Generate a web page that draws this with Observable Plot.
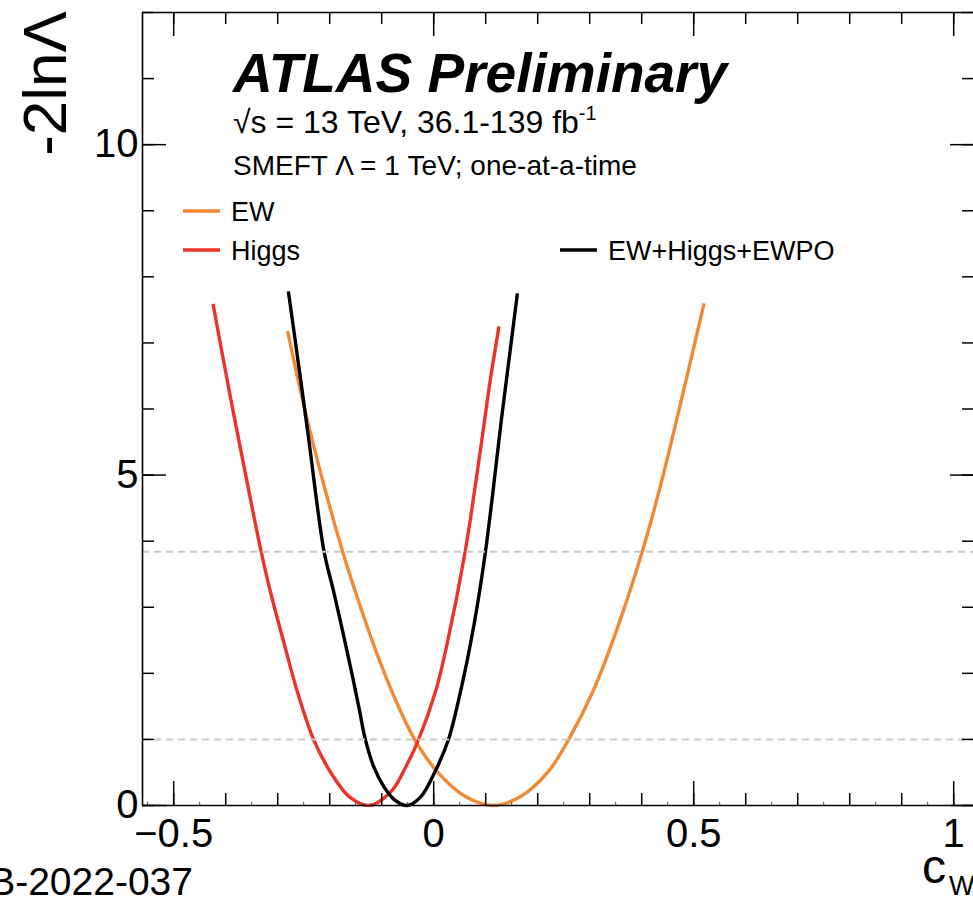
<!DOCTYPE html>
<html>
<head>
<meta charset="utf-8">
<script src="https://cdn.jsdelivr.net/npm/d3@7"></script>
<script src="https://cdn.jsdelivr.net/npm/@observablehq/plot@0.6"></script>
<style>
  html, body { margin: 0; padding: 0; background: #fff; }
  #chart { position: relative; width: 973px; height: 897px; overflow: hidden; }
</style>
</head>
<body>
<div id="chart"></div>
<script>
// Likelihood scans of the Wilson coefficient c_W (one-at-a-time fits)
const categories = ["EW", "Higgs", "EW+Higgs+EWPO"];
const seriesColors = ["#f28934", "#eb3427", "#000000"];

const ewX = [-0.281, -0.261, -0.233, -0.1755, -0.1385, -0.1045, -0.069, -0.036, 0.008, 0.06, 0.113, 0.168, 0.221, 0.259, 0.307, 0.353, 0.401, 0.4365, 0.4686, 0.5199];
const ewY = [7.18, 6.45, 5.51, 3.85, 2.95, 2.2, 1.52, 0.99, 0.5, 0.14, 0, 0.14, 0.52, 0.99, 1.74, 2.68, 3.84, 4.85, 5.88, 7.6];

const higgsX = [-0.4244, -0.3895, -0.3615, -0.3318, -0.3145, -0.289, -0.261, -0.2305, -0.1965, -0.162, -0.1244, -0.08, -0.054, -0.0295, 0.004, 0.027, 0.0605, 0.0904, 0.1085, 0.1256];
const higgsY = [7.59, 6.12, 5.0, 3.84, 3.25, 2.49, 1.69, 0.99, 0.48, 0.13, 0, 0.23, 0.58, 0.99, 1.74, 2.49, 3.84, 5.41, 6.42, 7.25];

const combX = [-0.2795, -0.256, -0.2398, -0.211, -0.1928, -0.1729, -0.156, -0.143, -0.1315, -0.115, -0.0955, -0.076, -0.0506, -0.025, 0.0006, 0.028, 0.052, 0.0776, 0.0995, 0.1315, 0.1465, 0.161];
const combY = [7.78, 6.45, 5.51, 3.85, 3.25, 2.56, 1.95, 1.45, 1.0, 0.58, 0.28, 0.09, 0, 0.13, 0.48, 0.99, 1.74, 2.74, 3.84, 5.92, 6.85, 7.75];

const xDomain = [-0.56, 1.04];
const yDomain = [0, 12];
const xMajor = [-0.5, 0, 0.5, 1];
const xMajorLabels = ["\u22120.5", "0", "0.5", "1"];
const yMajor = [0, 5, 10];
const yMajorLabels = ["0", "5", "10"];
const refLevels = [1, 3.84];

const xMinor = d3.range(-5, 11).map(i => i / 10);
const xFine = d3.range(-6, 11).map(i => Math.round((i / 10 + 0.05) * 100) / 100)
  .filter(v => v > xDomain[0] && v < xDomain[1]);
const yMinor = d3.range(yDomain[0], yDomain[1] + 1);

const FONT = '"Liberation Sans", Arial, Helvetica, sans-serif';
const W = 973, H = 897;
const M = { left: 142, right: -1, top: 12, bottom: 92 };
const frameW = W - M.left - M.right;
const frameH = H - M.top - M.bottom;

const rows = [
  ...ewX.map((x, i) => ({ series: categories[0], x, y: ewY[i] })),
  ...higgsX.map((x, i) => ({ series: categories[1], x, y: higgsY[i] })),
  ...combX.map((x, i) => ({ series: categories[2], x, y: combY[i] }))
];

const id = d => d;
const chart = Plot.plot({
  width: W,
  height: H,
  marginLeft: M.left,
  marginRight: M.right,
  marginTop: M.top,
  marginBottom: M.bottom,
  x: { domain: xDomain, axis: null },
  y: { domain: yDomain, axis: null },
  color: { domain: categories, range: seriesColors },
  style: { background: "white", fontFamily: FONT, color: "black", overflow: "hidden" },
  marks: [
    Plot.line(rows, { x: "x", y: "y", z: "series", stroke: "series", strokeWidth: 3.4, strokeLinecap: "butt", curve: "catmull-rom" }),
    Plot.ruleY(refLevels, { stroke: "#c8c8c8", strokeWidth: 2, strokeDasharray: "7,5" }),
    // frame
    Plot.ruleY(yDomain, { stroke: "black", strokeWidth: 1.6 }),
    Plot.ruleX(xDomain, { stroke: "black", strokeWidth: 1.6 }),
    // x ticks, bottom and top
    Plot.tickX(xMajor, { x: id, insetTop: frameH - 24, strokeWidth: 1.5 }),
    Plot.tickX(xMajor, { x: id, insetBottom: frameH - 24, strokeWidth: 1.5 }),
    Plot.tickX(xMinor, { x: id, insetTop: frameH - 12, strokeWidth: 1.5 }),
    Plot.tickX(xMinor, { x: id, insetBottom: frameH - 12, strokeWidth: 1.5 }),
    Plot.tickX(xFine, { x: id, insetTop: frameH - 3, strokeWidth: 1, stroke: "#444" }),
    // y ticks, left and right
    Plot.tickY(yMajor, { y: id, insetRight: frameW - 24, strokeWidth: 1.5 }),
    Plot.tickY(yMajor, { y: id, insetLeft: frameW - 24, strokeWidth: 1.5 }),
    Plot.tickY(yMinor, { y: id, insetRight: frameW - 12, strokeWidth: 1.5 }),
    Plot.tickY(yMinor, { y: id, insetLeft: frameW - 12, strokeWidth: 1.5 }),
    // tick labels
    Plot.text(xMajor, { x: id, text: (d, i) => xMajorLabels[i], frameAnchor: "bottom", lineAnchor: "top", dy: 13, fontSize: 40 }),
    Plot.text(yMajor, { y: id, text: (d, i) => yMajorLabels[i], frameAnchor: "left", textAnchor: "end", dx: -4, fontSize: 40 })
  ]
});
document.getElementById("chart").appendChild(chart);

const svg = d3.select(chart);
const g = svg.append("g").attr("font-family", FONT).attr("fill", "black").attr("text-anchor", "start");

// experiment label
g.append("text").attr("x", 233).attr("y", 92)
  .attr("font-size", 55).attr("font-weight", "bold").attr("font-style", "italic")
  .text("ATLAS Preliminary");
const energy = g.append("text").attr("x", 233).attr("y", 133).attr("font-size", 32);
energy.append("tspan").text("\u221As = 13 TeV, 36.1-139 fb");
energy.append("tspan").attr("dy", -13).attr("font-size", 20).text("-1");
g.append("text").attr("x", 233).attr("y", 175).attr("font-size", 28)
  .text("SMEFT \u039B = 1 TeV; one-at-a-time");

// legend
const legendItems = [
  { label: categories[0], color: seriesColors[0], x: 183, y: 211 },
  { label: categories[1], color: seriesColors[1], x: 183, y: 250 },
  { label: categories[2], color: seriesColors[2], x: 560, y: 250 }
];
const leg = g.selectAll("g.leg").data(legendItems).join("g").attr("class", "leg");
leg.append("line")
  .attr("x1", d => d.x).attr("x2", d => d.x + 37)
  .attr("y1", d => d.y).attr("y2", d => d.y)
  .attr("stroke", d => d.color).attr("stroke-width", 3.4);
leg.append("text")
  .attr("x", d => d.x + 48).attr("y", d => d.y + 10)
  .attr("font-size", 27).text(d => d.label);

// axis titles
g.append("text").attr("transform", "translate(66,11) rotate(-90)")
  .attr("text-anchor", "end").attr("font-size", 62).text("-2ln\u039B");
const xt = g.append("text").attr("x", 922).attr("y", 883).attr("font-size", 48);
xt.append("tspan").text("c");
xt.append("tspan").attr("x", 949).attr("y", 895).attr("font-size", 27).text("W");

// publication reference
g.append("text").attr("x", 193).attr("y", 895).attr("text-anchor", "end")
  .attr("font-size", 39).text("ATL-PHYS-PUB-2022-037");
</script>
</body>
</html>
